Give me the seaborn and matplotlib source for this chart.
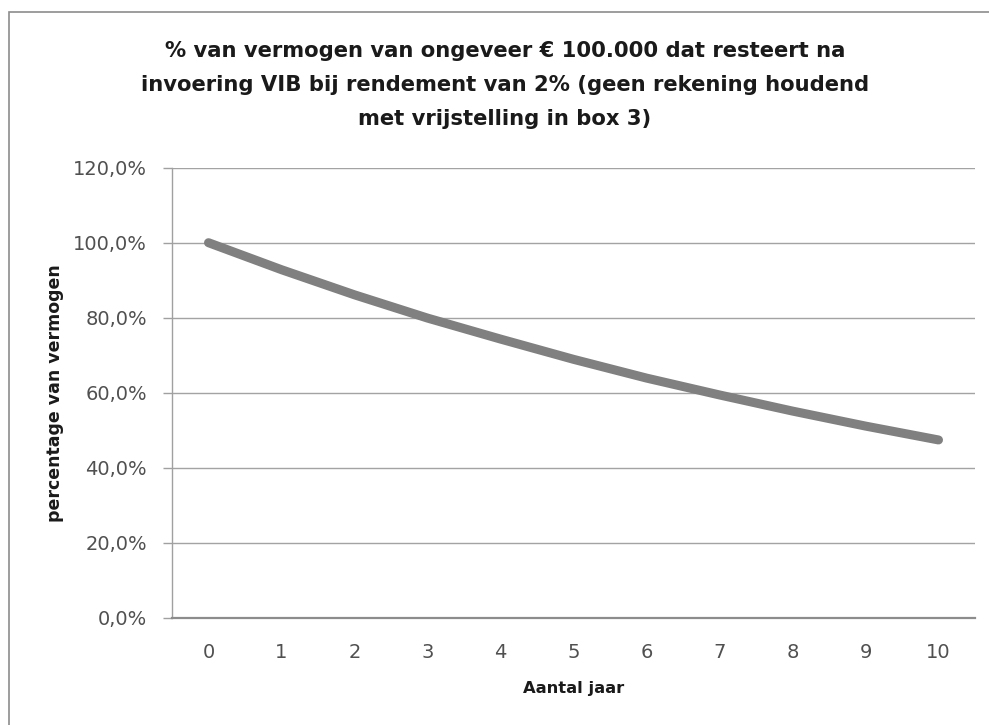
import matplotlib
matplotlib.use("Agg")
import matplotlib.pyplot as plt
import seaborn as sns
import pandas as pd
from matplotlib.ticker import FuncFormatter
from matplotlib.patches import Rectangle

# ---- data ----
jaren = [0, 1, 2, 3, 4, 5, 6, 7, 8, 9, 10]
percentage = [100.0, 92.8, 86.1, 79.9, 74.3, 68.9, 63.9, 59.4, 55.1, 51.1, 47.4]
y_ticks = [0, 20, 40, 60, 80, 100, 120]
title = ("% van vermogen van ongeveer € 100.000 dat resteert na\n"
         "invoering VIB bij rendement van 2% (geen rekening houdend\n"
         "met vrijstelling in box 3)")
x_label = "Aantal jaar"
y_label = "percentage van vermogen"

sns.set_style("white")
plt.rcParams['font.family'] = ['DejaVu Sans']

W, H = 989, 725
fig = plt.figure(figsize=(W / 100, H / 100), dpi=100)
fig.patch.set_facecolor("white")

# chart-area border (extends beyond right/bottom edges)
fig.patches.append(Rectangle((8.5 / W, -0.05), 1.2, 1 - 11.5 / H + 0.05,
                             transform=fig.transFigure, fill=False,
                             edgecolor="#8c8c8c", linewidth=1.2))

ax = fig.add_axes([172 / W, 1 - 617.7 / H, (975 - 172) / W, (617.7 - 167.7) / H])
df = pd.DataFrame({"jaar": jaren, "pct": percentage})
sns.lineplot(data=df, x="jaar", y="pct", ax=ax, color="#808080",
             linewidth=6.5, solid_capstyle="round", zorder=3)

ax.set_xlim(-0.5, 10.5)
ax.set_ylim(0, 120)
ax.set_xticks(jaren)
ax.set_xticklabels([str(j) for j in jaren])
ax.set_yticks(y_ticks)
ax.yaxis.set_major_formatter(FuncFormatter(lambda v, p: f"{v:.1f}%".replace(".", ",")))
ax.grid(axis="y", color="#a3a3a3", linewidth=1.0)
ax.grid(axis="x", visible=False)
ax.set_axisbelow(True)
for s in ["top", "right"]:
    ax.spines[s].set_visible(False)
ax.spines["left"].set_color("#a0a0a0")
ax.spines["left"].set_linewidth(1.0)
ax.spines["bottom"].set_color("#8c8c8c")
ax.spines["bottom"].set_linewidth(1.6)

ax.tick_params(axis="y", length=6.5, width=1.0, color="#a0a0a0", pad=11.5,
               labelsize=14, labelcolor="#505050", direction="out", left=True)
ax.tick_params(axis="x", length=0, pad=18, labelsize=14, labelcolor="#505050")

ax.set_xlabel(x_label, family=["DejaVu Sans"], weight="bold", size=11.8, color="#1a1a1a")
ax.set_ylabel(y_label, family=["DejaVu Sans"], weight="bold", size=12.5, color="#1a1a1a")
ax.xaxis.set_label_coords(0.5, (617.7 - 688) / 450)
ax.xaxis.label.set_va("center")
ax.yaxis.set_label_coords((55 - 172) / 803, 0.5)
ax.yaxis.label.set_va("center")

fig.text(505 / W, 1 - 85 / H, title, ha="center", va="center",
         family=["DejaVu Sans"], weight="bold", size=15.2,
         color="#1a1a1a", linespacing=1.85)

fig.savefig("out.png", dpi=100, facecolor="white")
